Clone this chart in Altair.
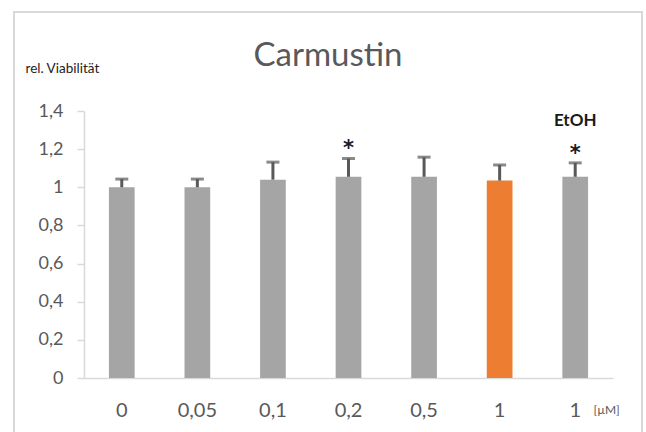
import altair as alt
import pandas as pd

# ---- data ----
ids = ["c0", "c1", "c2", "c3", "c4", "c5", "c6"]
labels = ["0", "0,05", "0,1", "0,2", "0,5", "1", "1"]
means = [1.00, 1.00, 1.04, 1.055, 1.055, 1.035, 1.055]
errs = [0.043, 0.043, 0.092, 0.096, 0.103, 0.082, 0.073]
groups = ["Carmustin", "Carmustin", "Carmustin", "Carmustin", "Carmustin", "Highlight", "EtOH"]
stars = ["", "", "", "*", "", "", "*"]
notes = ["", "", "", "", "", "", "EtOH"]
y_ticks = [0, 0.2, 0.4, 0.6, 0.8, 1.0, 1.2, 1.4]
title_text = "Carmustin"

df = pd.DataFrame({
    "id": ids, "label": labels, "mean": means, "err": errs,
    "group": groups, "star": stars, "note": notes,
})
df["top"] = df["mean"] + df["err"]

label_map = "{" + ",".join(f"'{i}':'{l}'" for i, l in zip(ids, labels)) + "}"

FONT = "Lato"
TXT = "#595959"
AX = "#d9d9d9"

xaxis = alt.Axis(labelExpr=f"{label_map}[datum.value]", labelAngle=0,
                 ticks=False, domainColor=AX, domainWidth=1.5,
                 labelFontSize=20, labelColor=TXT, labelFont=FONT, labelPadding=22,
                 title="[µM]", titleFont=FONT, titleFontSize=12, titleFontWeight="normal",
                 titleColor=TXT, titleAngle=0, titleAlign="left", titleBaseline="middle",
                 titleX=509, titleY=31)
yaxis = alt.Axis(values=y_ticks, grid=False, domainColor=AX, tickColor=AX,
                 tickSize=7, domainWidth=1.5, tickWidth=1.5, labelOverlap=False,
                 labelExpr="replace(format(datum.value, '~g'), '.', ',')",
                 labelFontSize=18, labelColor=TXT, labelFont=FONT, labelPadding=14,
                 title="rel. Viabilität", titleFont=FONT, titleFontSize=13.5,
                 titleFontWeight="normal", titleColor="#222222", titleAngle=0,
                 titleAlign="left", titleBaseline="middle", titleX=-59, titleY=-43)
xscale = alt.Scale(paddingInner=0.66, paddingOuter=0.33)
yscale = alt.Scale(domain=[0, 1.4], nice=False)

xs = alt.X("id:N", sort=ids, scale=xscale, axis=xaxis)


def ys(field):
    return alt.Y(f"{field}:Q", scale=yscale, axis=yaxis, title="rel. Viabilität")


bars = alt.Chart(df).mark_bar().encode(
    x=xs, y=ys("mean"),
    color=alt.Color("group:N", scale=alt.Scale(domain=["Carmustin", "Highlight", "EtOH"],
                                               range=["#a5a5a5", "#ed7d31", "#a5a5a5"]),
                    legend=None),
)

rules = alt.Chart(df).mark_rule(color=TXT, strokeWidth=3).encode(
    x=xs, y=ys("mean"), y2="top:Q")
caps = alt.Chart(df).mark_tick(color=TXT, thickness=3, size=13).encode(
    x=xs, y=ys("top"))

star_txt = alt.Chart(df).mark_text(font="DejaVu Sans", fontSize=21, fontWeight="bold",
                                   color="#1a1a2a", baseline="alphabetic", dy=-3).encode(
    x=xs, y=ys("top"), text="star:N")
note_txt = alt.Chart(df).mark_text(font=FONT, fontSize=17, fontWeight="bold", color="#1a1a1a",
                                   baseline="middle", dy=-42).encode(
    x=xs, y=ys("top"), text="note:N")

title_mark = alt.Chart(pd.DataFrame({"t": [title_text]})).mark_text(
    font=FONT, fontSize=33, color=TXT, align="center", baseline="middle").encode(
    x=alt.value(244), y=alt.value(-55), text="t:N")

frame = alt.Chart(df).mark_rect(fill=None, stroke=AX, strokeWidth=2).encode(
    x=alt.value(-70), x2=alt.value(558), y=alt.value(-99), y2=alt.value(330))

chart = alt.layer(bars, rules, caps, star_txt, note_txt, title_mark, frame).properties(
    width=529, height=267,
    autosize=alt.AutoSizeParams(type="none"),
    padding={"left": 84, "top": 111, "right": 33, "bottom": 54},
).configure(background="white").configure_view(stroke=None).configure_axis(labelOverlap=False)

chart.save("out.html", embed_options={"renderer": "svg", "actions": False})
